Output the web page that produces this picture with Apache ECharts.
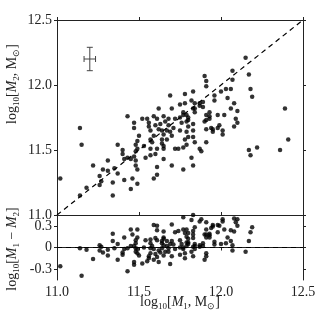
<!DOCTYPE html>
<html>
<head>
<meta charset="utf-8">
<script src="https://cdn.jsdelivr.net/npm/echarts@6/dist/echarts.min.js"></script>
<style>
html, body { margin: 0; padding: 0; background: #fff; }
#chart { width: 334px; height: 321px; }
</style>
</head>
<body>
<div id="chart"></div>
<script>
// log10 M1 / log10 M2 of each object
var m1 = [11.14, 11.15, 11.02, 11.22, 11.28, 11.31, 11.31, 11.26, 11.27, 11.26, 11.18, 11.14, 11.34, 11.34,
    11.69, 11.78, 11.83, 11.62, 11.70, 11.75, 11.78, 11.82, 11.84, 11.83, 11.84, 11.84, 11.77, 11.77, 11.79, 11.43, 11.59, 11.65, 11.80,
    12.15, 11.90, 11.91, 11.91, 12.07, 12.07, 12.17, 12.18, 12.19, 12.03, 12.06, 12.00, 11.96, 11.96, 12.04, 12.08, 12.06, 12.10, 12.39,
    11.87, 11.89, 11.87, 11.89, 11.93, 11.91, 11.93, 11.98, 12.02,
    11.91, 11.93, 11.90, 12.09, 12.10, 12.08, 11.98, 11.99, 11.94, 11.95, 11.95, 11.91, 12.01, 12.01, 11.84, 11.91, 11.87, 11.88,
    12.17, 12.18, 12.22, 12.36, 12.41,
    11.52, 11.55, 11.61, 11.68, 11.72, 11.75, 11.79, 11.80, 11.56, 11.47, 11.47, 11.56, 11.60, 11.63, 11.66, 11.68, 11.71, 11.76,
    11.80, 11.83, 11.57, 11.62, 11.64, 11.67, 11.69, 11.65, 11.70, 11.59, 11.50, 11.75, 11.79, 11.83, 11.80, 11.83, 11.64, 11.67,
    11.57, 11.58, 11.49, 11.48, 11.78, 11.79, 11.64, 11.65, 11.65, 11.72, 11.74, 11.77, 11.61, 11.57, 11.53, 11.37, 11.40, 11.49,
    11.48, 11.43, 11.41, 11.45, 11.47, 11.48, 11.54, 11.57, 11.60, 11.48, 11.49, 11.35, 11.37, 11.61, 11.65, 11.70, 11.77, 11.83,
    11.82, 11.61, 11.59, 11.41, 11.46, 11.49, 11.45, 11.40];
var m2 = [11.67, 11.54, 11.28, 11.38, 11.35, 11.42, 11.34, 11.30, 11.26, 11.23, 11.21, 11.15, 11.15, 11.25,
    11.92, 11.93, 11.95, 11.82, 11.82, 11.85, 11.86, 11.88, 11.86, 11.82, 11.82, 11.79, 11.79, 11.77, 11.77, 11.76, 11.76, 11.76, 11.75,
    12.21, 12.07, 12.03, 11.99, 12.11, 12.04, 12.08, 11.97, 11.91, 11.97, 11.97, 11.95, 11.92, 11.88, 11.90, 11.86, 11.82, 11.80, 11.82,
    11.86, 11.87, 11.84, 11.83, 11.79, 11.77, 11.76, 11.77, 11.77,
    11.73, 11.74, 11.72, 11.74, 11.71, 11.68, 11.67, 11.69, 11.67, 11.66, 11.64, 11.66, 11.65, 11.62, 11.56, 11.56, 11.51, 11.49,
    11.50, 11.46, 11.52, 11.50, 11.58,
    11.74, 11.74, 11.74, 11.74, 11.74, 11.75, 11.72, 11.73, 11.71, 11.71, 11.67, 11.68, 11.69, 11.70, 11.72, 11.69, 11.67, 11.71,
    11.68, 11.70, 11.65, 11.66, 11.65, 11.65, 11.64, 11.62, 11.61, 11.61, 11.61, 11.65, 11.64, 11.65, 11.60, 11.60, 11.58, 11.58,
    11.58, 11.56, 11.57, 11.54, 11.58, 11.54, 11.55, 11.53, 11.51, 11.51, 11.51, 11.52, 11.51, 11.51, 11.53, 11.54, 11.50, 11.51,
    11.49, 11.44, 11.43, 11.43, 11.45, 11.42, 11.44, 11.46, 11.47, 11.38, 11.35, 11.36, 11.32, 11.37, 11.43, 11.38, 11.35, 11.38,
    11.44, 11.31, 11.28, 11.27, 11.28, 11.24, 11.20, 11.47];
var xTicks = [11.0, 11.5, 12.0, 12.5];
var resTicks = [-0.3, 0, 0.3];
// typical error: [x, y, xerr, yerr]
var errBar = [11.2, 12.2, 0.035, 0.09];

var serif = 'Liberation Serif';
var ink = '#222';

var massPts = [], resPts = [];
for (var i = 0; i < m1.length; i++) {
    massPts.push([m1[i], m2[i]]);
    resPts.push([m1[i], +(m1[i] - m2[i]).toFixed(3)]);
}

function lbl(v) { return v.toFixed(1); }

var tickOut = { show: true, inside: false, length: 3, lineStyle: { color: ink } };
var line = { show: true, lineStyle: { color: ink, width: 1 } };

var rich = {
    n: { fontFamily: serif, fontSize: 14, lineHeight: 18, color: ink },
    i: { fontFamily: serif, fontSize: 14, lineHeight: 18, fontStyle: 'italic', color: ink },
    s: { fontFamily: serif, fontSize: 9, lineHeight: 9, verticalAlign: 'bottom', color: ink }
};
function title(x, y, rot, text) {
    return {
        type: 'text', x: x, y: y, rotation: rot,
        style: { text: text, rich: rich, align: 'center', verticalAlign: 'middle', fill: ink }
    };
}

var chart = echarts.init(document.getElementById('chart'));
chart.setOption({
    animation: false,
    grid: [
        { left: 57, top: 20, width: 246, height: 195, outerBoundsMode: 'none' },
        { left: 57, top: 215, width: 246, height: 65, outerBoundsMode: 'none' }
    ],
    xAxis: [
        { gridIndex: 0, type: 'value', min: 11, max: 12.5, interval: 0.5, axisLine: line,
          axisTick: { show: true, inside: true, length: 3, lineStyle: { color: ink } },
          axisLabel: { show: false }, splitLine: { show: false } },
        { gridIndex: 0, type: 'value', position: 'top', min: 11, max: 12.5, interval: 0.5, axisLine: line,
          axisTick: tickOut, axisLabel: { show: false }, splitLine: { show: false } },
        { gridIndex: 1, type: 'value', min: 11, max: 12.5, interval: 0.5, axisLine: line, axisTick: tickOut,
          axisLabel: { fontFamily: serif, fontSize: 14, color: ink, margin: 5, formatter: lbl,
                       showMinLabel: true, showMaxLabel: true },
          splitLine: { show: false } }
    ],
    yAxis: [
        { gridIndex: 0, type: 'value', min: 11, max: 12.5, interval: 0.5, axisLine: line, axisTick: tickOut,
          axisLabel: { fontFamily: serif, fontSize: 14, color: ink, margin: 5, formatter: lbl,
                       showMinLabel: true, showMaxLabel: true },
          splitLine: { show: false } },
        { gridIndex: 0, type: 'value', position: 'right', min: 11, max: 12.5, interval: 0.5, axisLine: line,
          axisTick: tickOut, axisLabel: { show: false }, splitLine: { show: false } },
        { gridIndex: 1, type: 'value', min: -0.45, max: 0.45, axisLine: line,
          axisTick: { show: true, inside: false, length: 3, lineStyle: { color: ink }, customValues: resTicks },
          axisLabel: { fontFamily: serif, fontSize: 14, color: ink, margin: 5, customValues: resTicks,
                       formatter: function (v) { return v === 0 ? '0' : v.toFixed(1); } },
          splitLine: { show: false } },
        { gridIndex: 1, type: 'value', position: 'right', min: -0.45, max: 0.45, axisLine: line,
          axisTick: { show: true, inside: false, length: 3, lineStyle: { color: ink }, customValues: resTicks },
          axisLabel: { show: false }, splitLine: { show: false } }
    ],
    graphic: [
        title(12, 84, Math.PI / 2, '{n|log}{s|10}{n|[}{i|M}{s|2}{n|, M}{s|⊙}{n|]}'),
        title(12, 249, Math.PI / 2, '{n|log}{s|10}{n|[}{i|M}{s|1}{n| − }{i|M}{s|2}{n|]}'),
        title(180, 302, 0, '{n|log}{s|10}{n|[}{i|M}{s|1}{n|, M}{s|⊙}{n|]}')
    ],
    series: [
        { type: 'line', xAxisIndex: 0, yAxisIndex: 0, data: [[11, 11], [12.5, 12.5]], symbol: 'none',
          lineStyle: { color: '#000', width: 1.2, type: [5, 4] }, silent: true },
        { type: 'line', xAxisIndex: 2, yAxisIndex: 2, data: [[11, 0], [12.5, 0]], symbol: 'none',
          lineStyle: { color: '#000', width: 1.2, type: [5, 4] }, silent: true },
        { type: 'scatter', xAxisIndex: 0, yAxisIndex: 0, data: massPts, symbolSize: 4.5,
          itemStyle: { color: '#000' }, clip: true },
        { type: 'scatter', xAxisIndex: 2, yAxisIndex: 2, data: resPts, symbolSize: 4.5,
          itemStyle: { color: '#000' }, clip: true },
        { type: 'custom', xAxisIndex: 0, yAxisIndex: 0, data: [errBar],
          renderItem: function (params, api) {
              var x = api.value(0), y = api.value(1), dx = api.value(2), dy = api.value(3);
              var l = api.coord([x - dx, y]), r = api.coord([x + dx, y]);
              var t = api.coord([x, y + dy]), b = api.coord([x, y - dy]);
              var cap = 3, st = { stroke: '#444', lineWidth: 1 };
              function seg(x1, y1, x2, y2) {
                  return { type: 'line', shape: { x1: x1, y1: y1, x2: x2, y2: y2 }, style: st };
              }
              return { type: 'group', children: [
                  seg(l[0], l[1], r[0], r[1]),
                  seg(t[0], t[1], b[0], b[1]),
                  seg(l[0], l[1] - cap, l[0], l[1] + cap),
                  seg(r[0], r[1] - cap, r[0], r[1] + cap),
                  seg(t[0] - cap, t[1], t[0] + cap, t[1]),
                  seg(b[0] - cap, b[1], b[0] + cap, b[1])
              ] };
          } }
    ]
});
</script>
</body>
</html>
